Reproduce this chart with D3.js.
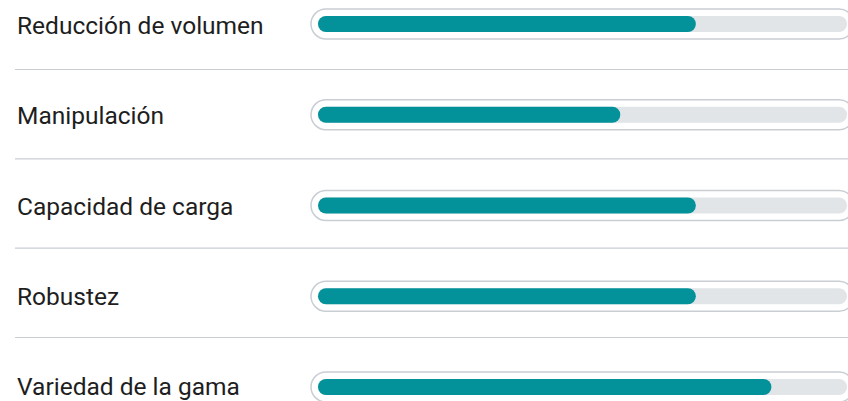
<!DOCTYPE html>
<html>
<head>
<meta charset="utf-8">
<script src="https://cdn.jsdelivr.net/npm/d3@7"></script>
<style>
  body { margin: 0; background: #fff; }
  .label { font-family: Roboto, "Noto Sans", sans-serif; font-size: 24.5px; fill: #1e1e1e; }
</style>
</head>
<body>
<script>
// size of the page
var w = 848;
var h = 401;

// chart data
var labels = ["Reducción de volumen", "Manipulación", "Capacidad de carga", "Robustez", "Variedad de la gama"];
var scores = [5, 4, 5, 5, 6];
var maxScore = 7;

// colours
var teal = "#03919a";
var track = "#e1e5e8";
var border = "#c9ced3";

var svg = d3.select("body")
            .append("svg")
            .attr("width", w)
            .attr("height", h);

// vertical centre of each bar
var yScale = d3.scalePoint()
               .domain(labels)
               .range([24, 387]);

// label baselines sit on a slightly different grid
var textScale = d3.scalePoint()
                  .domain(labels)
                  .range([34, 395]);

// score scale along the track
var xScale = d3.scaleLinear()
               .domain([0, maxScore])
               .range([318, 847]);

// separators between rows
var sepScale = d3.scaleLinear()
                 .domain([0, labels.length - 2])
                 .range([69, 337]);

svg.selectAll(".sep")
   .data(d3.range(labels.length - 1))
   .enter()
   .append("line")
   .attr("class", "sep")
   .attr("x1", 15)
   .attr("x2", w)
   .attr("y1", d => sepScale(d) + 0.5)
   .attr("y2", d => sepScale(d) + 0.5)
   .attr("stroke", border)
   .attr("stroke-width", 1.2);

// label text
svg.selectAll(".label")
   .data(labels)
   .enter()
   .append("text")
   .attr("class", "label")
   .attr("x", 17)
   .attr("y", d => textScale(d))
   .text(d => d);

var rows = svg.selectAll(".row")
              .data(labels)
              .enter()
              .append("g")
              .attr("class", "row")
              .attr("transform", d => "translate(0," + yScale(d) + ")");

// outer outline of the bar
rows.append("rect")
    .attr("x", xScale(0) - 7)
    .attr("y", -15)
    .attr("width", xScale(maxScore) - xScale(0) + 14)
    .attr("height", 30)
    .attr("rx", 15)
    .attr("fill", "#fff")
    .attr("stroke", border)
    .attr("stroke-width", 1.5);

// grey track
rows.append("rect")
    .attr("x", xScale(0))
    .attr("y", -8)
    .attr("width", xScale(maxScore) - xScale(0))
    .attr("height", 16)
    .attr("rx", 8)
    .attr("fill", track);

// teal fill
rows.append("rect")
    .attr("x", xScale(0))
    .attr("y", -8)
    .attr("width", (d, i) => xScale(scores[i]) - xScale(0))
    .attr("height", 16)
    .attr("rx", 8)
    .attr("fill", teal);
</script>
</body>
</html>
